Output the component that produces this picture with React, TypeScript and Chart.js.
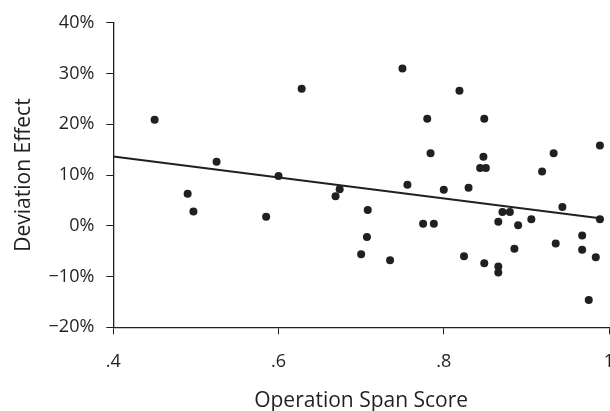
import React, { useEffect, useRef } from "react";
import { Chart, registerables } from "chart.js";

Chart.register(...registerables);

// Operation span score (x) for each participant
const spanScores = [
  0.45, 0.49, 0.497, 0.525, 0.585, 0.6, 0.628, 0.669, 0.674, 0.7,
  0.707, 0.708, 0.735, 0.75, 0.756, 0.775, 0.78, 0.784, 0.788, 0.8,
  0.819, 0.8245, 0.83, 0.844, 0.851, 0.848, 0.849, 0.849, 0.866, 0.866,
  0.866, 0.871, 0.88, 0.8855, 0.89, 0.906, 0.919, 0.933, 0.9355, 0.9436,
  0.9675, 0.9675, 0.9755, 0.984, 0.989, 0.989,
];
// Deviation effect (%) for each participant
const deviationEffects = [
  20.9, 6.3, 2.8, 12.6, 1.8, 9.8, 27.0, 5.8, 7.2, -5.6,
  -2.2, 3.1, -6.8, 31.0, 8.1, 0.4, 21.1, 14.3, 0.4, 7.1,
  26.6, -6.0, 7.5, 11.4, 11.4, 13.6, 21.1, -7.4, -8.0, -9.2,
  0.8, 2.7, 2.7, -4.5, 0.1, 1.3, 10.7, 14.3, -3.5, 3.7,
  -1.9, -4.7, -14.6, -6.2, 15.8, 1.3,
];
// Linear trend line end points
const trendX = [0.4, 0.989];
const trendY = [13.67, 1.5];

const xTickValues = [0.4, 0.6, 0.8, 1.0];
const xTickLabels = [".4", ".6", ".8", "1"];
const yTickValues = [-20, -10, 0, 10, 20, 30, 40];
const yTickLabels = ["\u221220%", "\u221210%", "0%", "10%", "20%", "30%", "40%"];

const INK = "#231f20";
const FONT = "'Open Sans', sans-serif";

export default function App() {
  const ref = useRef<HTMLCanvasElement | null>(null);

  useEffect(() => {
    const canvas = ref.current;
    if (!canvas) return;
    const points = spanScores.map((x, i) => ({ x, y: deviationEffects[i] }));
    const trend = trendX.map((x, i) => ({ x, y: trendY[i] }));
    const chart = new Chart(canvas, {
      type: "scatter",
      data: {
        datasets: [
          {
            type: "line",
            data: trend,
            borderColor: INK,
            borderWidth: 2,
            pointRadius: 0,
            fill: false,
            tension: 0,
          } as any,
          {
            type: "scatter",
            data: points,
            backgroundColor: INK,
            borderWidth: 0,
            pointRadius: 4,
            pointHoverRadius: 4,
          },
        ],
      },
      options: {
        animation: false,
        responsive: false,
        devicePixelRatio: 1,
        layout: { padding: { left: 0, top: 19, right: 31, bottom: 0 } },
        plugins: { legend: { display: false }, tooltip: { enabled: false } },
        scales: {
          x: {
            type: "linear",
            min: 0.4,
            max: 1.0,
            afterBuildTicks: (scale: any) => {
              scale.ticks = xTickValues.map((v) => ({ value: v }));
            },
            afterFit: (scale: any) => {
              scale.height = 83.7;
            },
            ticks: {
              color: INK,
              font: { family: FONT, size: 18 },
              padding: 17,
              maxRotation: 0,
              callback: (v: any) => {
                const i = xTickValues.findIndex((t) => Math.abs(t - Number(v)) < 1e-6);
                return i >= 0 ? xTickLabels[i] : "";
              },
            },
            grid: {
              display: true,
              drawOnChartArea: false,
              drawTicks: true,
              tickLength: 7,
              color: INK,
              lineWidth: 1,
            },
            border: { display: true, color: INK, width: 1.3 },
            title: {
              display: true,
              text: "Operation Span Score",
              color: INK,
              font: { family: FONT, size: 21, lineHeight: 0.7 },
              padding: { top: 0, bottom: 3 },
            },
          },
          y: {
            type: "linear",
            min: -20,
            max: 40,
            afterBuildTicks: (scale: any) => {
              scale.ticks = yTickValues.map((v) => ({ value: v }));
            },
            afterFit: (scale: any) => {
              scale.width = 113.3;
            },
            ticks: {
              color: INK,
              font: { family: FONT, size: 18 },
              padding: 12,
              callback: (v: any) => {
                const i = yTickValues.indexOf(Number(v));
                return i >= 0 ? yTickLabels[i] : "";
              },
            },
            grid: {
              display: true,
              drawOnChartArea: false,
              drawTicks: true,
              tickLength: 7,
              color: INK,
              lineWidth: 1,
            },
            border: { display: true, color: INK, width: 1.3 },
            title: {
              display: true,
              text: "Deviation Effect",
              color: INK,
              font: { family: FONT, size: 21 },
              padding: { top: 11, bottom: 0 },
            },
          },
        },
      },
    });
    return () => chart.destroy();
  }, []);

  return (
    <div
      style={{
        position: "fixed",
        left: 0,
        top: 0,
        width: 610,
        height: 411,
        overflow: "hidden",
        background: "#fff",
      }}
    >
      <canvas
        ref={ref}
        width={640}
        height={411}
        style={{ display: "block", width: 640, height: 411 }}
      />
    </div>
  );
}
